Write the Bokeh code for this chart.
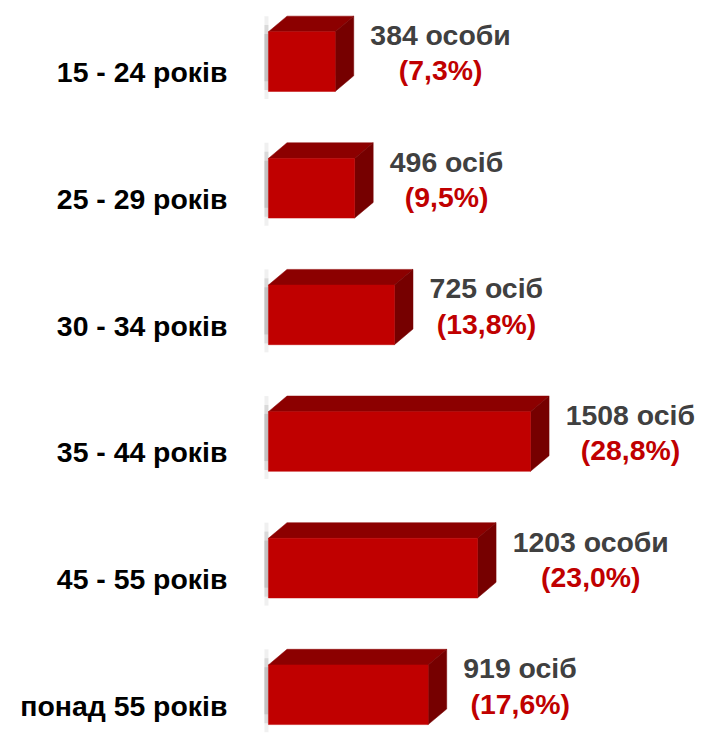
from bokeh.plotting import figure
from bokeh.models import Range1d
from bokeh.core.properties import value
from bokeh.embed import file_html
from bokeh.resources import INLINE

# ---- data ----
categories = ["15 - 24 років", "25 - 29 років", "30 - 34 років",
              "35 - 44 років", "45 - 55 років", "понад 55 років"]
counts = [384, 496, 725, 1508, 1203, 919]
count_labels = ["384 особи", "496 осіб", "725 осіб", "1508 осіб", "1203 особи", "919 осіб"]
pct_labels = ["(7,3%)", "(9,5%)", "(13,8%)", "(28,8%)", "(23,0%)", "(17,6%)"]

# ---- layout constants (pixels) ----
W, H = 706, 734
k = 706.0 / 722.0               # fit the 722x750 design into the drawable area
zero_px = 274.0 * k
scale = 268.0 * k / 1508.0      # px per person
unit = 129.5 * k                # px per category slot
first_center = 62.5 * k
FONT = "Liberation Sans"
FS = 28.4

x0 = -zero_px / scale
x1 = (W - zero_px) / scale
ytop = -first_center / unit
ybot = ytop + H / unit

h = 30.5 * k / unit             # half height of front face
dx = 19.0 * k / scale           # depth offset, x
dy = 16.0 * k / unit            # depth offset, y

p = figure(width=W, height=H, output_backend="svg", toolbar_location=None,
           x_range=Range1d(x0, x1), y_range=Range1d(ybot, ytop),
           min_border=0, outline_line_color=None)
p.axis.visible = False
p.grid.visible = False
p.background_fill_color = "white"
p.border_fill_color = "white"

ys = list(range(len(counts)))

# shadow / axis strip
shade_px = 2.0 / scale
for frac, alpha in [(0.0, 0.25), (0.15, 0.45), (0.3, 0.6)]:
    p.segment(x0=[-shade_px] * len(ys), x1=[-shade_px] * len(ys),
              y0=[y - h - dy + frac * 2 * h for y in ys],
              y1=[y + h + 0.06 - frac * 2 * h for y in ys],
              line_color="#9a9a9a", line_alpha=alpha * 0.6, line_width=4)

# top faces
top_xs = [[0, v, v + dx, dx] for v in counts]
top_ys = [[y - h, y - h, y - h - dy, y - h - dy] for y in ys]
p.patches(top_xs, top_ys, fill_color="#8C0000", line_color="#8C0000", line_width=0.5)

# side faces
side_xs = [[v, v + dx, v + dx, v] for v in counts]
side_ys = [[y - h, y - h - dy, y + h - dy, y + h] for y in ys]
p.patches(side_xs, side_ys, fill_color="#760000", line_color="#760000", line_width=0.5)

# front faces
p.quad(left=[0] * len(counts), right=counts,
       top=[y - h for y in ys], bottom=[y + h for y in ys],
       fill_color="#C00000", line_color="#C00000", line_width=0.5)

# category labels
p.text(x=[0] * len(ys), y=[y + 11 * k / unit for y in ys], text=categories,
       x_offset=-42 * k, text_align="right", text_baseline="middle",
       text_font=value(FONT), text_font_style="bold", text_font_size=f"{FS}px",
       text_color="#000000")

# width estimate for centering the second line
CW = {"0": .556, "1": .556, "2": .556, "3": .556, "4": .556, "5": .556, "6": .556,
      "7": .556, "8": .556, "9": .556, " ": .278, "(": .333, ")": .333, ",": .278,
      "%": .889, "о": .611, "с": .556, "і": .278, "б": .611, "и": .611}
def width_px(s):
    return sum(CW.get(c, .6) for c in s) * FS

gap = 17.0 * k
line1_x = [v + dx + gap / scale for v in counts]
line2_x = [lx + (width_px(s) / 2) / scale for lx, s in zip(line1_x, count_labels)]

p.text(x=line1_x, y=[y - 27 * k / unit for y in ys], text=count_labels,
       text_align="left", text_baseline="middle",
       text_font=value(FONT), text_font_style="bold", text_font_size=f"{FS}px",
       text_color="#404040")
p.text(x=line2_x, y=[y + 9 * k / unit for y in ys], text=pct_labels,
       text_align="center", text_baseline="middle",
       text_font=value(FONT), text_font_style="bold", text_font_size=f"{FS}px",
       text_color="#C00000")

open("out.html", "w").write(file_html(p, INLINE))
